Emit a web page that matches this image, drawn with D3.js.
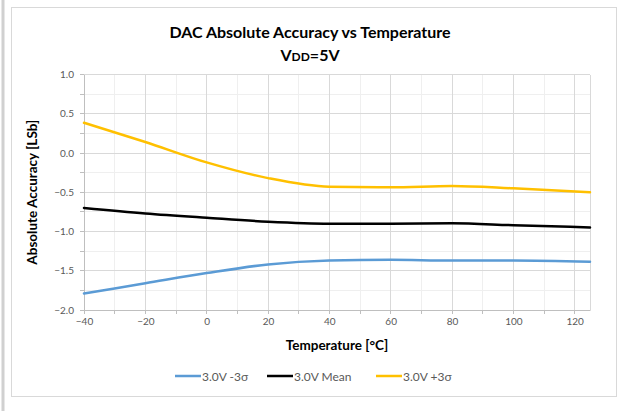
<!DOCTYPE html>
<html><head><meta charset="utf-8">
<script src="https://cdn.jsdelivr.net/npm/d3@7"></script>
<style>body{margin:0;background:#fff}svg{display:block}text{font-family:Lato,"Open Sans",sans-serif}</style>
</head><body><svg id="c" width="619" height="411"></svg>
<script>
const temps = [-40, -20, 0, 20, 40, 60, 80, 100, 125];
const minus3s = [-1.79, -1.66, -1.53, -1.42, -1.37, -1.36, -1.37, -1.37, -1.385];
const mean = [-0.70, -0.77, -0.825, -0.875, -0.90, -0.90, -0.895, -0.92, -0.948];
const plus3s = [0.385, 0.14, -0.12, -0.32, -0.43, -0.437, -0.42, -0.45, -0.50];
const seriesNames = ["3.0V -3σ", "3.0V Mean", "3.0V +3σ"];
const seriesColors = ["#5B9BD5", "#000000", "#FFC000"];
const xTicks = [-40, -20, 0, 20, 40, 60, 80, 100, 120];
const yTicks = [-2.0, -1.5, -1.0, -0.5, 0.0, 0.5, 1.0];

const svg = d3.select("#c");
// outer frames
svg.append("rect").attr("x",1.5).attr("y",-2).attr("width",3).attr("height",420).attr("fill","#d0d0d0");
svg.append("rect").attr("x",11.5).attr("y",7.5).attr("width",605).attr("height",389).attr("fill","#fff").attr("stroke","#d9d9d9").attr("stroke-width",1);

const x = d3.scaleLinear().domain([-40,125]).range([84,590]);
const y = d3.scaleLinear().domain([-2,1]).range([310,74.5]);

const g = svg.append("g");
// minor grid
g.selectAll(".mx").data(d3.range(-30,125,20)).join("line")
  .attr("x1",d=>x(d)).attr("x2",d=>x(d)).attr("y1",y(-2)).attr("y2",y(1))
  .attr("stroke","#efefef").attr("stroke-width",1).attr("shape-rendering","crispEdges");
g.selectAll(".my").data(d3.range(-1.75,1,0.5)).join("line")
  .attr("y1",d=>y(d)).attr("y2",d=>y(d)).attr("x1",x(-40)).attr("x2",x(125))
  .attr("stroke","#efefef").attr("stroke-width",1).attr("shape-rendering","crispEdges");
// major grid
g.selectAll(".gx").data(xTicks.concat([125])).join("line")
  .attr("x1",d=>x(d)).attr("x2",d=>x(d)).attr("y1",y(-2)).attr("y2",y(1))
  .attr("stroke","#d9d9d9").attr("stroke-width",1).attr("shape-rendering","crispEdges");
g.selectAll(".gy").data(yTicks).join("line")
  .attr("y1",d=>y(d)).attr("y2",d=>y(d)).attr("x1",x(-40)).attr("x2",x(125))
  .attr("stroke","#d9d9d9").attr("stroke-width",1).attr("shape-rendering","crispEdges");

// axes
const xAxis = d3.axisBottom(x).tickValues(xTicks).tickSize(0).tickPadding(8).tickFormat(d3.format("d"));
const xa = svg.append("g").attr("transform",`translate(0,${y(-2)})`).call(xAxis);
xa.select(".domain").attr("stroke","#bfbfbf");
xa.selectAll("text").attr("fill","#595959").attr("font-size","10px").attr("font-family","Lato, sans-serif");
// x minor ticks
svg.selectAll(".xt").data(d3.range(-40,125,10)).join("line")
  .attr("x1",d=>x(d)).attr("x2",d=>x(d)).attr("y1",y(-2)).attr("y2",y(-2)+4)
  .attr("stroke","#bfbfbf").attr("shape-rendering","crispEdges");

const yAxis = d3.axisLeft(y).tickValues(yTicks).tickSize(0).tickPadding(10).tickFormat(d3.format(".1f"));
const ya = svg.append("g").attr("transform",`translate(${x(-40)},0)`).call(yAxis);
ya.select(".domain").attr("stroke","#bfbfbf");
ya.selectAll("text").attr("fill","#595959").attr("font-size","10px").attr("font-family","Lato, sans-serif");
svg.selectAll(".yt").data(d3.range(-2,1.01,0.25)).join("line")
  .attr("y1",d=>y(d)).attr("y2",d=>y(d)).attr("x1",x(-40)-4).attr("x2",x(-40))
  .attr("stroke","#bfbfbf").attr("shape-rendering","crispEdges");

// lines
const series = [minus3s, mean, plus3s];
const line = d3.line().x((d,i)=>x(temps[i])).y(d=>y(d)).curve(d3.curveMonotoneX);
series.forEach((s,k)=>{
  svg.append("path").datum(s).attr("d",line).attr("fill","none")
    .attr("stroke",seriesColors[k]).attr("stroke-width",2.5).attr("stroke-linecap","round");
});

// titles
svg.append("text").attr("x",310).attr("y",38).attr("text-anchor","middle")
  .attr("font-weight","bold").attr("font-size","16px").attr("fill","#000").text("DAC Absolute Accuracy vs Temperature");
const t2 = svg.append("text").attr("x",310).attr("y",61).attr("text-anchor","middle")
  .attr("font-weight","bold").attr("font-size","16px").attr("fill","#000");
t2.append("tspan").text("V");
t2.append("tspan").attr("font-size","12px").text("DD");
t2.append("tspan").text("=5V");

svg.append("text").attr("transform",`translate(37,${(y(1)+y(-2))/2}) rotate(-90)`)
  .attr("text-anchor","middle").attr("font-weight","bold").attr("font-size","13.5px").attr("fill","#000")
  .text("Absolute Accuracy [LSb]");
svg.append("text").attr("x",(x(-40)+x(125))/2).attr("y",350).attr("text-anchor","middle")
  .attr("font-weight","bold").attr("font-size","13.5px").attr("fill","#000")
  .text("Temperature [°C]");

// legend
const legX = [175, 267, 376];
seriesNames.forEach((n,k)=>{
  svg.append("line").attr("x1",legX[k]).attr("x2",legX[k]+26).attr("y1",376).attr("y2",376)
    .attr("stroke",seriesColors[k]).attr("stroke-width",2.5);
  svg.append("text").attr("x",legX[k]+27).attr("y",380.5).attr("font-size","12px")
    .attr("fill","#595959").text(n);
});
</script></body></html>
